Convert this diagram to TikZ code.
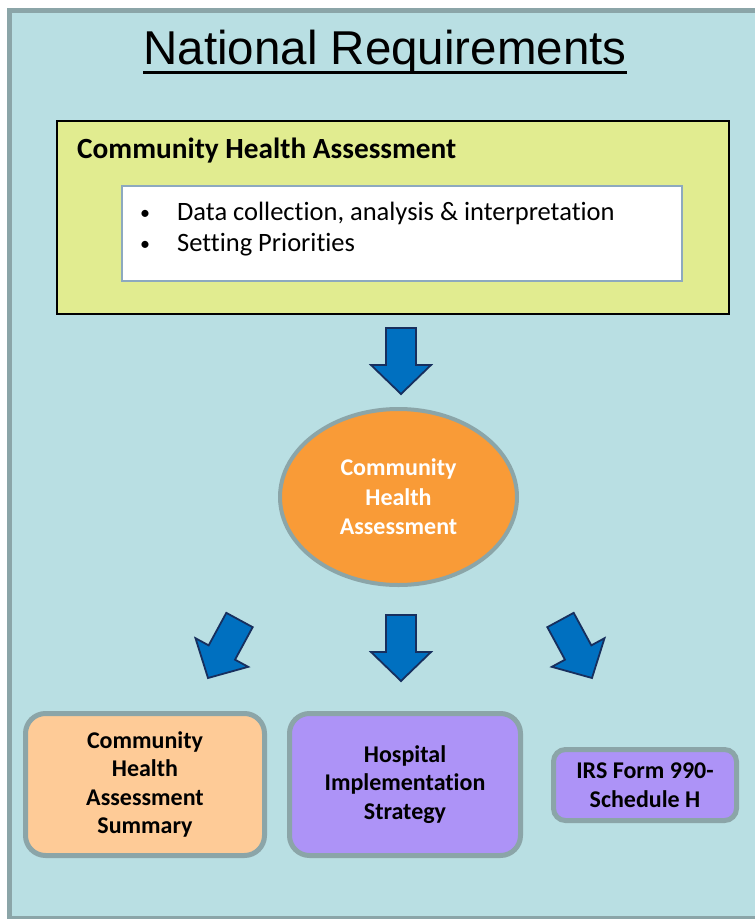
\documentclass[tikz,border=0pt]{standalone}
\usepackage{fontspec}
\setmainfont{Carlito}[Ligatures=NoCommon]
\newfontfamily\arialfont{Liberation Sans}
\usetikzlibrary{shapes.geometric,calc}

\definecolor{bgteal}{HTML}{B9DFE3}
\definecolor{frameline}{HTML}{8BA5A8}
\definecolor{limebox}{HTML}{E1EC90}
\definecolor{listline}{HTML}{8DA9BF}
\definecolor{arrowblue}{HTML}{0070C0}
\definecolor{arrowline}{HTML}{172F5E}
\definecolor{orangefill}{HTML}{F99B37}
\definecolor{peach}{HTML}{FECB97}
\definecolor{lavender}{HTML}{AD93F7}

\begin{document}
\begin{tikzpicture}[x=1pt,y=-1pt,
  blockarrow/.style={fill=arrowblue, draw=arrowline, line width=1.8pt, line join=miter},
  bigarrow/.pic={\draw[blockarrow] (-15,0) -- (15,0) -- (15,37) -- (30,37) -- (0,66) -- (-30,37) -- (-15,37) -- cycle;},
  listtext/.style={font=\fontsize{26.5}{31}\selectfont, inner sep=0},
  bulletmark/.style={font=\fontsize{20}{24}\selectfont, inner sep=0},
  outbox/.style={draw=frameline, line width=5pt, rounded corners=20pt, align=center, inner sep=0,
    font=\bfseries\fontsize{24}{28.5}\selectfont}
]
\useasboundingbox (0,0) rectangle (755,919);
\fill[white] (0,0) rectangle (755,919);
\draw[frameline, line width=5pt, fill=bgteal] (9.5,10.5) rectangle (800,918);

% title
\node[font=\arialfont\fontsize{47.5}{56}\selectfont, inner sep=0, anchor=base] (title) at (385,64) {National Requirements};
\draw[line width=2.6pt] ([yshift=-8.5pt]title.base west) -- ([yshift=-8.5pt]title.base east);

% community health assessment box
\node[draw=black, line width=2pt, fill=limebox, minimum width=672pt, minimum height=193pt, inner sep=0, anchor=north west] (cha) at (56,120) {};
\node[font=\bfseries\fontsize{29.3}{34}\selectfont, anchor=base west, inner sep=0] (chatitle) at (77,158) {Community Health Assessment};
\node[draw=listline, line width=2pt, fill=white, anchor=north west, minimum width=560pt, minimum height=95pt, inner sep=0] (list) at (121,185) {};
\node[bulletmark, anchor=base] (bul1) at (145,219) {•};
\node[listtext, anchor=base west] (item1) at (177,220) {Data collection, analysis \& interpretation};
\node[bulletmark, anchor=base] (bul2) at (145,250) {•};
\node[listtext, anchor=base west] (item2) at (177,251) {Setting Priorities};

% arrow down to ellipse
\coordinate (a0) at (401,328);
\pic at (a0) {bigarrow};

% ellipse
\node[ellipse, draw=frameline, line width=4pt, fill=orangefill, minimum width=237pt, minimum height=176pt, inner sep=0,
  text=white, align=center, font=\bfseries\fontsize{24}{29.5}\selectfont] (ell) at (398.5,497) {Community\\Health\\Assessment};

% three arrows
\coordinate (a1) at (239.5,620);
\coordinate (a2) at (401,615);
\coordinate (a3) at (560.5,620);
\pic[rotate=-28.5] at (a1) {bigarrow};
\pic at (a2) {bigarrow};
\pic[rotate=28.5] at (a3) {bigarrow};

% bottom boxes
\node[outbox, fill=peach, minimum width=239pt, minimum height=142pt] (sum) at (145,784.5) {Community\\Health\\Assessment\\Summary};
\node[outbox, fill=lavender, minimum width=231pt, minimum height=142pt] (his) at (405,784.5) {Hospital\\Implementation\\Strategy};
\node[outbox, fill=lavender, rounded corners=12pt, minimum width=183pt, minimum height=71pt] (irs) at (645,785) {IRS Form 990-\\Schedule H};
\end{tikzpicture}
\end{document}
